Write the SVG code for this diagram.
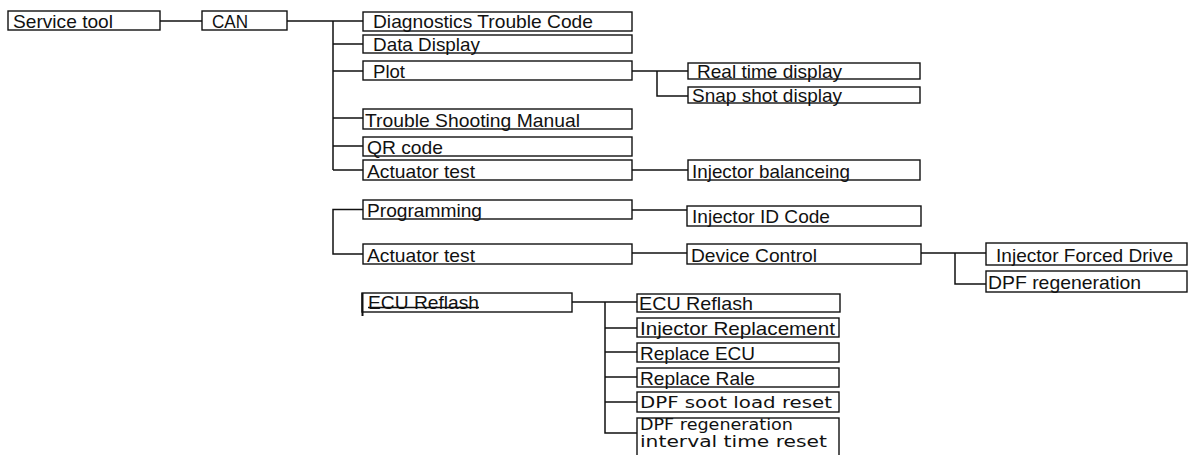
<svg xmlns="http://www.w3.org/2000/svg" width="1189" height="455" viewBox="0 0 1189 455">
<style>
.b{fill:#fff;stroke:#111;stroke-width:1.4}
.t{font-family:"Liberation Sans",Arial,sans-serif;font-size:19px;fill:#111}
.s{font-family:"DejaVu Sans","Liberation Sans",sans-serif;font-size:16px;fill:#111}
.c{fill:none;stroke:#111;stroke-width:1.5}
</style>
<rect width="1189" height="455" fill="#fff"/>
<g id="connectors" class="c">
<path d="M160 21H202"/>
<path d="M287 21H363M333 21V170M333 44H363M333 71H363M333 118H363M333 146H363M333 170H363"/>
<path d="M632 71H688M657 71V96H688"/>
<path d="M632 170H688"/>
<path d="M363 209.5H333V254H363"/>
<path d="M632 210H687"/>
<path d="M632 253H687"/>
<path d="M921 253H986M955 253V284H986"/>
<path d="M572 302H637M605 302V433H637M605 328H637M605 352H637M605 377H637M605 402H637"/>
</g>
<g id="n_service"><rect class="b" x="8" y="11" width="152" height="19"/><text class="t" x="13" y="27.5" textLength="100" lengthAdjust="spacingAndGlyphs">Service  tool</text></g>
<g id="n_can"><rect class="b" x="202" y="11" width="85" height="19"/><text class="t" x="212" y="27.5" textLength="36" lengthAdjust="spacingAndGlyphs">CAN</text></g>
<g id="n_dtc"><rect class="b" x="363" y="12" width="269" height="19"/><text class="t" x="373" y="28" textLength="220" lengthAdjust="spacingAndGlyphs">Diagnostics Trouble Code</text></g>
<g id="n_data"><rect class="b" x="363" y="35" width="269" height="18"/><text class="t" x="373" y="50.5" textLength="107" lengthAdjust="spacingAndGlyphs">Data Display</text></g>
<g id="n_plot"><rect class="b" x="363" y="61" width="269" height="19"/><text class="t" x="373" y="77.5" textLength="32" lengthAdjust="spacingAndGlyphs">Plot</text></g>
<g id="n_tsm"><rect class="b" x="363" y="109" width="269" height="20"/><text class="t" x="365" y="126.5" textLength="215" lengthAdjust="spacingAndGlyphs">Trouble Shooting Manual</text></g>
<g id="n_qr"><rect class="b" x="363" y="137" width="269" height="19"/><text class="t" x="367" y="153.5" textLength="76" lengthAdjust="spacingAndGlyphs">QR code</text></g>
<g id="n_act1"><rect class="b" x="363" y="160" width="269" height="20"/><text class="t" x="367" y="177.5" textLength="108" lengthAdjust="spacingAndGlyphs">Actuator test</text></g>
<g id="n_realtime"><rect class="b" x="688" y="63" width="232" height="16"/><text class="t" x="697" y="77.5" textLength="145" lengthAdjust="spacingAndGlyphs">Real time display</text></g>
<g id="n_snap"><rect class="b" x="688" y="87" width="232" height="16"/><text class="t" x="692" y="101.5" textLength="150" lengthAdjust="spacingAndGlyphs">Snap shot display</text></g>
<g id="n_injbal"><rect class="b" x="688" y="160" width="232" height="20"/><text class="t" x="692" y="177.5" textLength="158" lengthAdjust="spacingAndGlyphs">Injector balanceing</text></g>
<g id="n_prog"><rect class="b" x="363" y="200" width="269" height="19"/><text class="t" x="367" y="216.5" textLength="115" lengthAdjust="spacingAndGlyphs">Programming</text></g>
<g id="n_act2"><rect class="b" x="363" y="244" width="269" height="20"/><text class="t" x="367" y="261.5" textLength="108" lengthAdjust="spacingAndGlyphs">Actuator test</text></g>
<g id="n_injid"><rect class="b" x="687" y="206" width="234" height="20"/><text class="t" x="692" y="222.5" textLength="138" lengthAdjust="spacingAndGlyphs">Injector ID Code</text></g>
<g id="n_device"><rect class="b" x="687" y="244" width="234" height="20"/><text class="t" x="691" y="261.5" textLength="126" lengthAdjust="spacingAndGlyphs">Device Control</text></g>
<g id="n_ifd"><rect class="b" x="986" y="243" width="201" height="22"/><text class="t" x="996" y="261.5" textLength="177" lengthAdjust="spacingAndGlyphs">Injector Forced Drive</text></g>
<g id="n_dpfregen"><rect class="b" x="986" y="271" width="201" height="21"/><text class="t" x="988" y="288.5" textLength="153" lengthAdjust="spacingAndGlyphs">DPF regeneration</text></g>
<g id="n_ecu_left"><rect class="b" x="362" y="293" width="210" height="19"/><path d="M362.5 293V316" stroke="#111" stroke-width="2"/><text class="t" x="368" y="308.5" textLength="111" lengthAdjust="spacingAndGlyphs">ECU Reflash</text><path d="M368 307.5H479" stroke="#111" stroke-width="1.3"/></g>
<g id="n_ecu"><rect class="b" x="637" y="294" width="203" height="18"/><text class="t" x="639" y="309.5" textLength="114" lengthAdjust="spacingAndGlyphs">ECU Reflash</text></g>
<g id="n_injrep"><rect class="b" x="637" y="318" width="202" height="19"/><text class="t" x="640" y="334.5" textLength="195" lengthAdjust="spacingAndGlyphs">Injector Replacement</text></g>
<g id="n_recu"><rect class="b" x="637" y="343" width="202" height="19"/><text class="t" x="640" y="359.5" textLength="115" lengthAdjust="spacingAndGlyphs">Replace ECU</text></g>
<g id="n_rrale"><rect class="b" x="637" y="368" width="202" height="19"/><text class="t" x="640" y="384.5" textLength="115" lengthAdjust="spacingAndGlyphs">Replace Rale</text></g>
<g id="n_soot"><rect class="b" x="637" y="392" width="202" height="20"/><text class="s" x="640" y="408" textLength="192" lengthAdjust="spacingAndGlyphs">DPF soot load reset</text></g>
<g id="n_interval"><rect class="b" x="637" y="418" width="202" height="45"/><text class="s" x="640" y="430" textLength="153" lengthAdjust="spacingAndGlyphs">DPF regeneration</text><text class="s" x="640" y="447" textLength="187" lengthAdjust="spacingAndGlyphs">interval time reset</text></g>
</svg>
